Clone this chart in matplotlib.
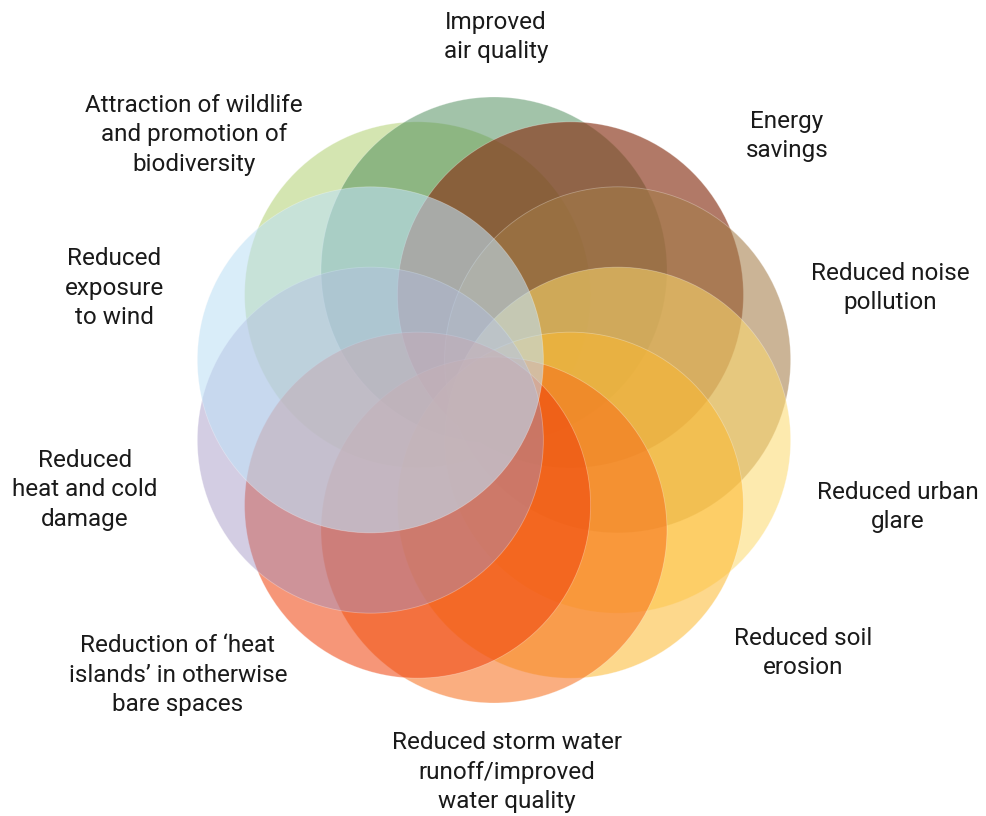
import numpy as np
import matplotlib.pyplot as plt
from matplotlib.patches import Circle

# benefits, clockwise from the top
labels = [
    "Improved\nair quality",
    "Energy\nsavings",
    "Reduced noise\npollution",
    "Reduced urban\nglare",
    "Reduced soil\nerosion",
    "Reduced storm water\nrunoff/improved\nwater quality",
    "Reduction of \u2018heat\nislands\u2019 in otherwise\nbare spaces",
    "Reduced\nheat and cold\ndamage",
    "Reduced\nexposure\nto wind",
    "Attraction of wildlife\nand promotion of\nbiodiversity",
]
# colour each circle shows where nothing else covers it
tints = ["#a3c4aa", "#b17a67", "#cbb496", "#feeaae", "#fed88c",
         "#faae80", "#f69678", "#d4cde4", "#daedfa", "#d5e6b2"]
alphas = [0.5, 0.65, 0.57, 0.55, 0.55, 0.55, 0.55, 0.45, 0.58, 0.5]
draw_order = [9, 0, 1, 2, 3, 4, 5, 6, 7, 8]

# layout (pixels)
cx, cy = 494, 400
ring_r, circ_r = 130, 173
label_xy = [(496, 37), (787, 136), (890, 288), (898, 507), (803, 653),
            (507, 772), (178, 675), (85, 490), (114, 288), (194, 135)]

fig = plt.figure(figsize=(9.87, 8.16), dpi=100)
ax = fig.add_axes([0, 0, 1, 1])
ax.set_xlim(0, 987)
ax.set_ylim(816, 0)
ax.set_aspect("equal")
ax.axis("off")

for i in draw_order:
    ang = np.deg2rad(90 - 36 * i)
    x = cx + ring_r * np.cos(ang)
    y = cy - ring_r * np.sin(ang)
    a = alphas[i]
    v = np.array([int(tints[i][k:k + 2], 16) for k in (1, 3, 5)]) / 255
    fc = np.clip((v - (1 - a)) / a, 0, 1)
    ax.add_patch(Circle((x, y), circ_r, facecolor=(*fc, a),
                        edgecolor=(1, 1, 1, 0.3), linewidth=0.6))

for lab, (tx, ty) in zip(labels, label_xy):
    ax.text(tx, ty, lab, ha="center", va="center", multialignment="center",
            fontsize=17.5, family="Roboto", color="#1a1a1a", linespacing=1.36)

plt.savefig("out.png", dpi=100)
